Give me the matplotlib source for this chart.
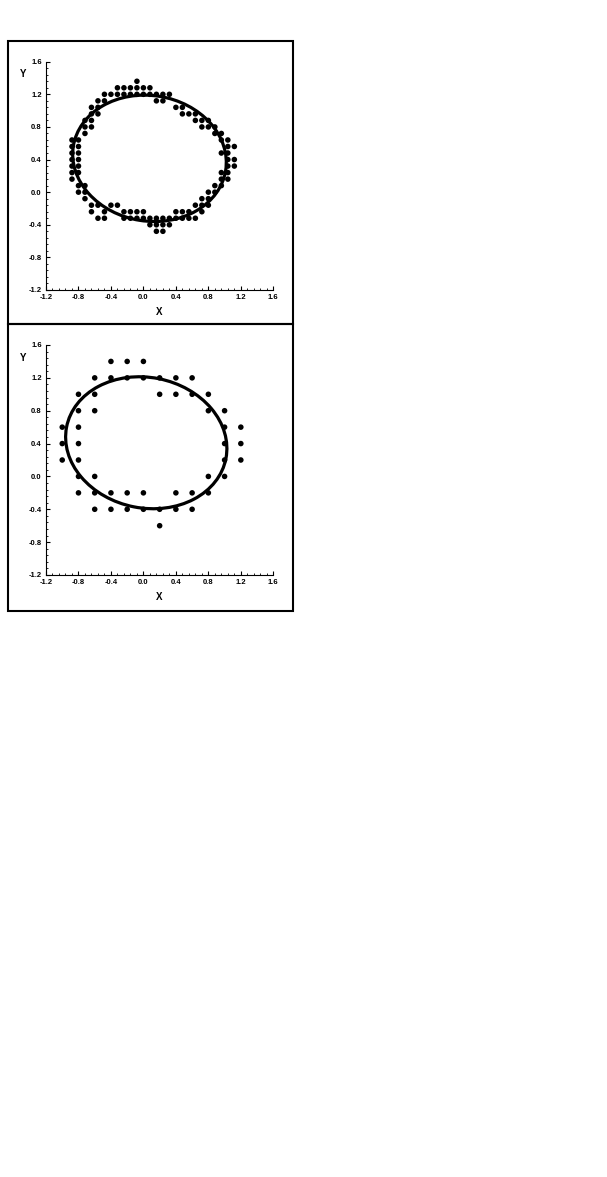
import matplotlib
matplotlib.use("Agg")
import matplotlib.pyplot as plt
from matplotlib.patches import Ellipse, Rectangle
from matplotlib.ticker import AutoMinorLocator, FormatStrFormatter

plt.rcParams['font.family'] = ['Liberation Sans', 'DejaVu Sans']
plt.rcParams['font.weight'] = 'bold'

# top panel: measured points on a 0.08 grid, one list of x per row of y
top_rows_y = [1.36, 1.28, 1.20, 1.12, 1.04, 0.96, 0.88, 0.80, 0.72, 0.64, 0.56, 0.48,
              0.40, 0.32, 0.24, 0.16, 0.08, 0.00, -0.08, -0.16, -0.24, -0.32, -0.40, -0.48]
top_rows_x = [
    [-0.08],
    [-0.32, -0.24, -0.16, -0.08, 0.0, 0.08],
    [-0.48, -0.40, -0.32, -0.24, -0.16, -0.08, 0.0, 0.08, 0.16, 0.24, 0.32],
    [-0.56, -0.48, 0.16, 0.24],
    [-0.64, -0.56, 0.40, 0.48],
    [-0.64, -0.56, 0.48, 0.56, 0.64],
    [-0.72, -0.64, 0.64, 0.72, 0.80],
    [-0.72, -0.64, 0.72, 0.80, 0.88],
    [-0.72, 0.88, 0.96],
    [-0.88, -0.80, 0.96, 1.04],
    [-0.88, -0.80, 1.04, 1.12],
    [-0.88, -0.80, 0.96, 1.04],
    [-0.88, -0.80, 1.04, 1.12],
    [-0.88, -0.80, 1.04, 1.12],
    [-0.88, -0.80, 0.96, 1.04],
    [-0.88, 0.96, 1.04],
    [-0.80, -0.72, 0.88, 0.96],
    [-0.80, -0.72, 0.80, 0.88],
    [-0.72, 0.72, 0.80],
    [-0.64, -0.56, -0.40, -0.32, 0.64, 0.72, 0.80],
    [-0.64, -0.48, -0.24, -0.16, -0.08, 0.0, 0.40, 0.48, 0.56, 0.72],
    [-0.56, -0.48, -0.24, -0.16, -0.08, 0.0, 0.08, 0.16, 0.24, 0.32, 0.40, 0.48, 0.56, 0.64],
    [0.08, 0.16, 0.24, 0.32],
    [0.16, 0.24],
]

# bottom panel: coarser 0.2 grid
bot_rows_y = [1.4, 1.2, 1.0, 0.8, 0.6, 0.4, 0.2, 0.0, -0.2, -0.4, -0.6]
bot_rows_x = [
    [-0.4, -0.2, 0.0],
    [-0.6, -0.4, -0.2, 0.0, 0.2, 0.4, 0.6],
    [-0.8, -0.6, 0.2, 0.4, 0.6, 0.8],
    [-0.8, -0.6, 0.8, 1.0],
    [-1.0, -0.8, 1.0, 1.2],
    [-1.0, -0.8, 1.0, 1.2],
    [-1.0, -0.8, 1.0, 1.2],
    [-0.8, -0.6, 0.8, 1.0],
    [-0.8, -0.6, -0.4, -0.2, 0.0, 0.4, 0.6, 0.8],
    [-0.6, -0.4, -0.2, 0.0, 0.2, 0.4, 0.6],
    [0.2],
]

# fitted ellipses: centre, full width, full height, angle (deg)
top_fit = ((0.075, 0.415), 1.90, 1.54, -9)
bot_fit = ((0.035, 0.41), 2.00, 1.59, -11)

x_ticks = [-1.2, -0.8, -0.4, 0.0, 0.4, 0.8, 1.2, 1.6]
y_ticks = [-1.2, -0.8, -0.4, 0.0, 0.4, 0.8, 1.2, 1.6]

W, H = 607, 1177
fig = plt.figure(figsize=(W / 100, H / 100), dpi=100)


def flatten(rows_y, rows_x):
    xs, ys = [], []
    for y, row in zip(rows_y, rows_x):
        for x in row:
            xs.append(x)
            ys.append(y)
    return xs, ys


def panel(rect, rows_y, rows_x, fit):
    ax = fig.add_axes(rect)
    xs, ys = flatten(rows_y, rows_x)
    ax.scatter(xs, ys, s=16, c='black', edgecolors='none', zorder=3)
    c, w, h, ang = fit
    ax.add_patch(Ellipse(c, w, h, angle=ang, fill=False, edgecolor='black', lw=2.3, zorder=4))
    ax.set_xlim(-1.2, 1.6)
    ax.set_ylim(-1.2, 1.6)
    ax.set_xticks(x_ticks)
    ax.set_yticks(y_ticks)
    ax.xaxis.set_minor_locator(AutoMinorLocator(5))
    ax.yaxis.set_minor_locator(AutoMinorLocator(5))
    ax.xaxis.set_major_formatter(FormatStrFormatter('%.1f'))
    ax.yaxis.set_major_formatter(FormatStrFormatter('%.1f'))
    for s in ['top', 'right']:
        ax.spines[s].set_visible(False)
    for s in ['left', 'bottom']:
        ax.spines[s].set_linewidth(0.8)
    ax.tick_params(which='major', direction='in', length=3, width=0.8, labelsize=5.5, pad=3)
    ax.tick_params(which='minor', direction='in', length=1.5, width=0.6)
    for lab in ax.get_xticklabels() + ax.get_yticklabels():
        lab.set_fontweight('bold')
    ax.set_xlabel('X', fontsize=7, fontweight='bold')
    ax.set_ylabel('Y', fontsize=7, fontweight='bold', rotation=0)
    ax.xaxis.set_label_coords(0.5, -0.095)
    ax.yaxis.set_label_coords(-0.10, 0.945)
    ax.xaxis.label.set_va('center')
    ax.yaxis.label.set_va('center')
    return ax


def px_rect(x0, y0, x1, y1):
    return [x0 / W, 1 - y1 / H, (x1 - x0) / W, (y1 - y0) / H]


panel(px_rect(46, 61.7, 273.3, 290), top_rows_y, top_rows_x, top_fit)
panel(px_rect(46, 345, 273.3, 575), bot_rows_y, bot_rows_x, bot_fit)

# outer frames around each panel
for y0, y1 in [(41, 324), (324, 611)]:
    fig.add_artist(Rectangle((7.5 / W, 1 - y1 / H), (292.5 - 7.5) / W, (y1 - y0) / H,
                             transform=fig.transFigure, fill=False, edgecolor='black', lw=1.5))

fig.savefig('out.png', dpi=100, facecolor='white')
